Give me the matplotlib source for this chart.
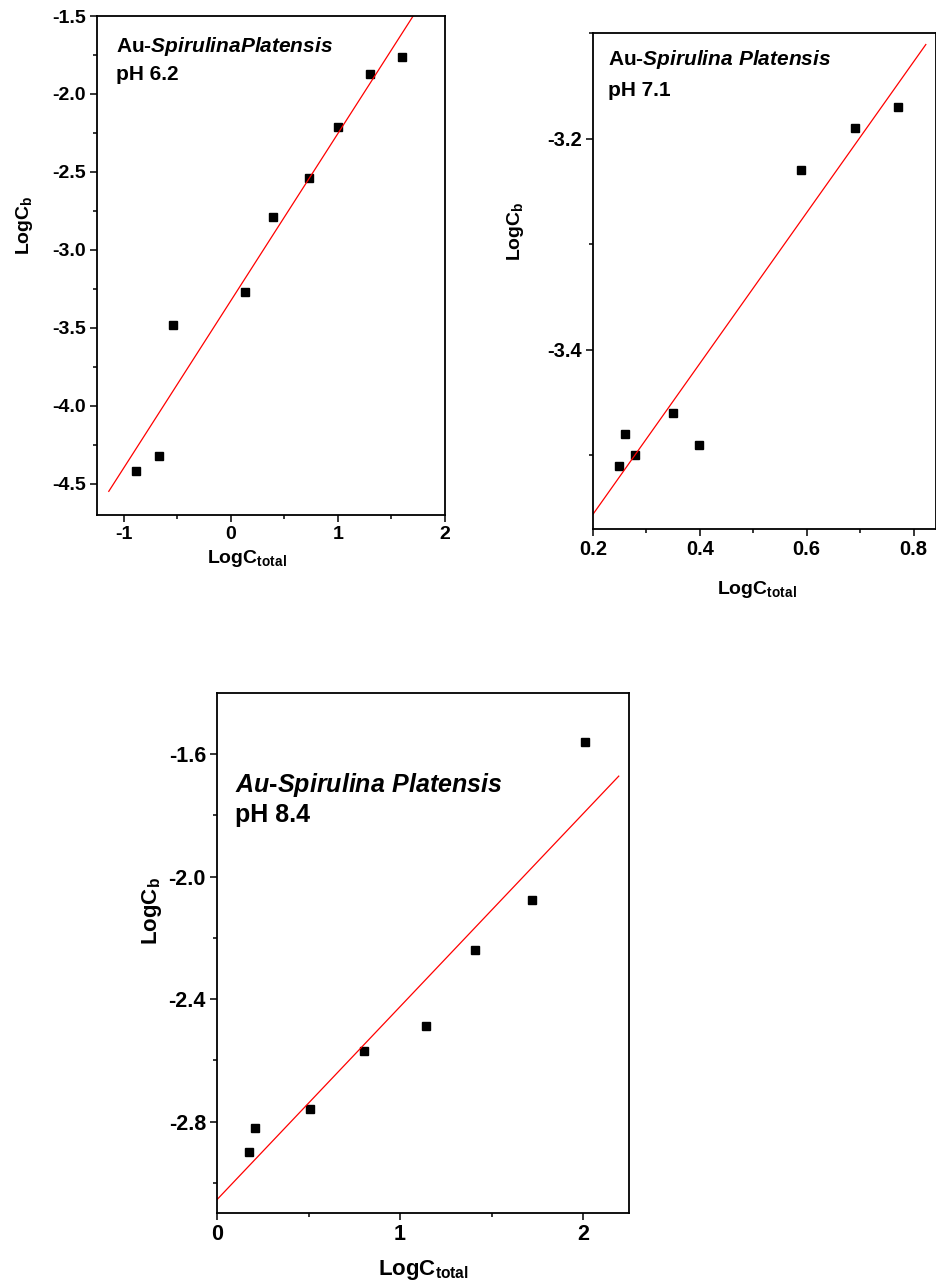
import matplotlib
matplotlib.use("Agg")
import matplotlib.pyplot as plt
from matplotlib.ticker import MultipleLocator, FormatStrFormatter
import numpy as np

plt.rcParams['font.family'] = ['Liberation Sans', 'DejaVu Sans']
plt.rcParams['font.weight'] = 'bold'
plt.rcParams['axes.unicode_minus'] = False
plt.rcParams['mathtext.fontset'] = 'custom'
plt.rcParams['mathtext.rm'] = 'Liberation Sans:bold'
plt.rcParams['mathtext.bf'] = 'Liberation Sans:bold'
plt.rcParams['mathtext.it'] = 'Liberation Sans:italic:bold'

# pH 6.2
ph62_x = [-0.89, -0.67, -0.54, 0.13, 0.39, 0.73, 1.00, 1.30, 1.60]
ph62_y = [-4.42, -4.32, -3.48, -3.27, -2.79, -2.54, -2.21, -1.87, -1.76]
ph62_fit_span = (-1.14, 1.75)

# pH 7.1
ph71_x = [0.249, 0.259, 0.279, 0.349, 0.399, 0.590, 0.690, 0.770]
ph71_y = [-3.510, -3.480, -3.500, -3.460, -3.490, -3.230, -3.190, -3.170]
ph71_fit_span = (0.2, 0.823)

# pH 8.4
ph84_x = [0.177, 0.208, 0.508, 0.802, 1.140, 1.410, 1.721, 2.011]
ph84_y = [-2.900, -2.819, -2.759, -2.568, -2.489, -2.239, -2.078, -1.560]
ph84_fit_span = (0.0, 2.195)


def panel(ax, x, y, span, xlim, ylim, xmaj, ymaj, xfmt, yfmt, tsize, lsize):
    ax.plot(x, y, 's', color='black', markersize=5.5, linestyle='none')
    # least squares line
    k, b = np.polyfit(x, y, 1)
    xx = np.array(span)
    ax.plot(xx, k * xx + b, color='red', lw=0.9)
    ax.set_xlim(*xlim)
    ax.set_ylim(*ylim)
    ax.xaxis.set_major_locator(MultipleLocator(xmaj))
    ax.xaxis.set_minor_locator(MultipleLocator(xmaj / 2))
    ax.yaxis.set_major_locator(MultipleLocator(ymaj))
    ax.yaxis.set_minor_locator(MultipleLocator(ymaj / 2))
    ax.xaxis.set_major_formatter(FormatStrFormatter(xfmt))
    ax.yaxis.set_major_formatter(FormatStrFormatter(yfmt))
    ax.tick_params(which='major', direction='out', length=5, width=1.1,
                   labelsize=tsize, pad=3)
    ax.tick_params(which='minor', direction='out', length=3, width=1.1)
    for s in ax.spines.values():
        s.set_linewidth(1.3)
    ax.set_xlabel(r'LogC$_{\mathrm{total}}$', fontsize=lsize, fontweight='bold')
    ax.set_ylabel(r'LogC$_{\mathrm{b}}$', fontsize=lsize, fontweight='bold')


fig = plt.figure(figsize=(9.37, 12.87), dpi=100)

ax1 = fig.add_axes([97 / 937, 1 - 515 / 1287, 348 / 937, 499 / 1287])
panel(ax1, ph62_x, ph62_y, ph62_fit_span, (-1.25, 2.0), (-4.70, -1.5),
      1, 0.5, '%d', '%.1f', 14, 14)
ax1.xaxis.set_label_coords(0.43, -0.066)
ax1.yaxis.set_label_coords(-0.178, 0.58)
ax1.text(0.055, 0.938, r'Au-$\mathit{SpirulinaPlatensis}$', transform=ax1.transAxes,
         fontsize=15, fontweight='bold', va='center')
ax1.text(0.055, 0.882, 'pH 6.2', transform=ax1.transAxes,
         fontsize=15, fontweight='bold', va='center')

ax2 = fig.add_axes([593 / 937, 1 - 529 / 1287, 343.5 / 937, 496 / 1287])
panel(ax2, ph71_x, ph71_y, ph71_fit_span, (0.2, 0.843), (-3.57, -3.10),
      0.2, 0.2, '%.1f', '%.1f', 14.5, 14)
ax2.xaxis.set_label_coords(0.478, -0.10)
ax2.yaxis.set_label_coords(-0.195, 0.6)
ax2.text(0.044, 0.946, r'Au-$\mathit{Spirulina\ Platensis}$', transform=ax2.transAxes,
         fontsize=15, fontweight='bold', va='center')
ax2.text(0.044, 0.885, 'pH 7.1', transform=ax2.transAxes,
         fontsize=15, fontweight='bold', va='center')

ax3 = fig.add_axes([217 / 937, 1 - 1213 / 1287, 412 / 937, 520 / 1287])
panel(ax3, ph84_x, ph84_y, ph84_fit_span, (0.0, 2.251), (-3.098, -1.401),
      1, 0.4, '%d', '%.1f', 15.5, 16)
ax3.xaxis.set_label_coords(0.5, -0.087)
ax3.yaxis.set_label_coords(-0.128, 0.58)
ax3.text(0.044, 0.823, r'$\mathit{Au}$-$\mathit{Spirulina\ Platensis}$', transform=ax3.transAxes,
         fontsize=18, fontweight='bold', va='center')
ax3.text(0.044, 0.765, 'pH 8.4', transform=ax3.transAxes,
         fontsize=18, fontweight='bold', va='center')

fig.savefig('out.png', dpi=100)
